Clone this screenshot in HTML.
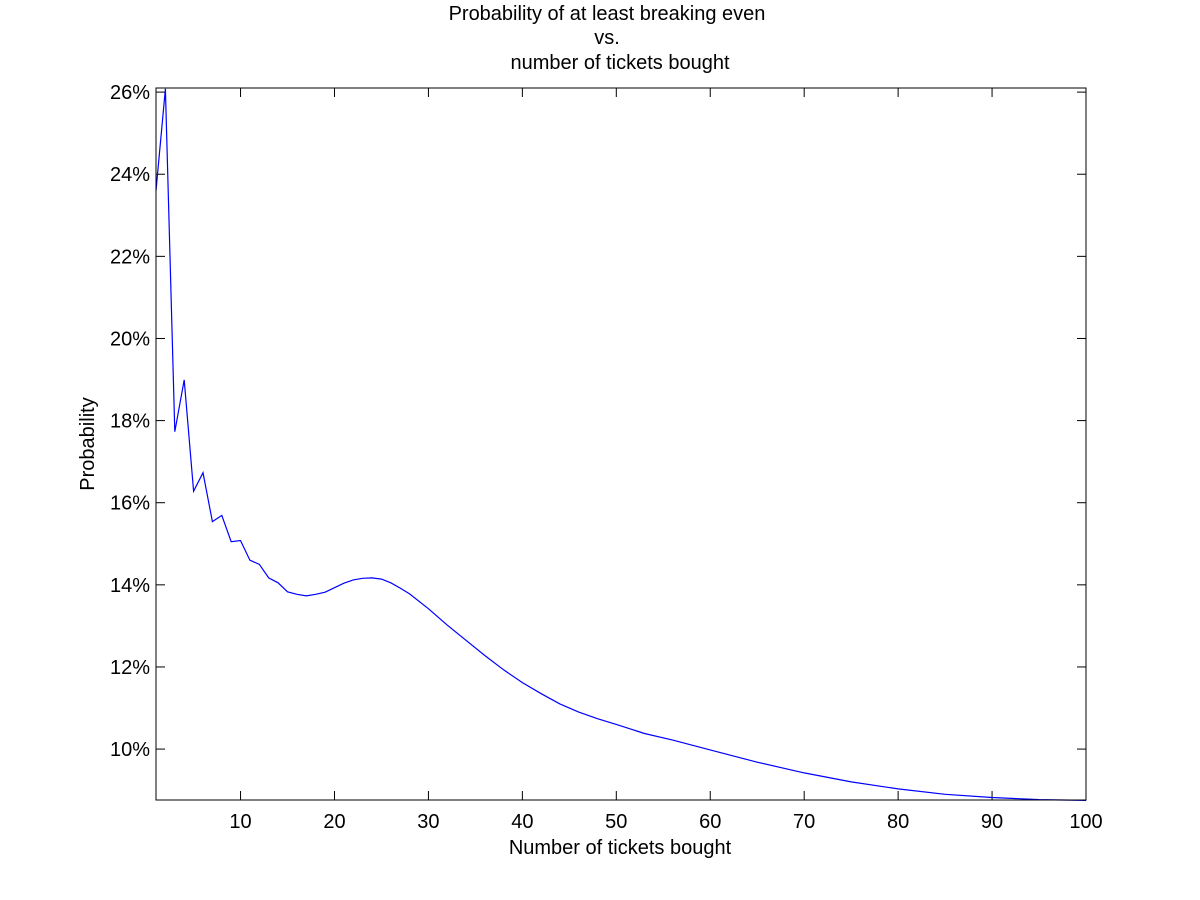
<!DOCTYPE html>
<html><head><meta charset="utf-8"><style>
html,body{margin:0;padding:0;background:#fff;}
svg{display:block;font-family:"Liberation Sans",Arial,sans-serif;}
</style></head><body>
<svg id="chart" width="1200" height="900">
<text x="607" y="20" font-size="20" text-anchor="middle">Probability of at least breaking even</text>
<text x="607" y="44" font-size="20" text-anchor="middle">vs.</text>
<text x="620" y="69" font-size="20" text-anchor="middle">number of tickets bought</text>
<text x="620" y="854" font-size="20" text-anchor="middle">Number of tickets bought</text>
<text transform="translate(94,444) rotate(-90)" font-size="20" text-anchor="middle">Probability</text>
<g id="ticks"></g>
<path id="line" fill="none" stroke="#0000ff" stroke-width="1.2"></path>
<rect x="156" y="88" width="930" height="712" fill="none" stroke="#000" stroke-width="1"></rect>
</svg>
<script>
const tickets = [1,2,3,4,5,6,7,8,9,10,11,12,13,14,15,16,17,18,19,20,21,22,23,24,25,26,27,28,30,32,34,36,38,40,42,44,46,48,50,53,56,60,65,70,75,80,85,90,95,100];
const probability = [23.6,26.08,17.73,18.99,16.28,16.73,15.54,15.69,15.05,15.08,14.6,14.5,14.17,14.05,13.83,13.77,13.73,13.77,13.82,13.93,14.04,14.12,14.16,14.17,14.14,14.05,13.92,13.78,13.42,13.02,12.65,12.28,11.93,11.62,11.35,11.1,10.9,10.74,10.6,10.38,10.22,9.98,9.68,9.42,9.2,9.03,8.9,8.82,8.77,8.75];
const xTicks = [10,20,30,40,50,60,70,80,90,100];
const yTicks = [10,12,14,16,18,20,22,24,26];
const L=156,R=1086,T=88,B=800, XMIN=1,XMAX=100,YMIN=8.76,YMAX=26.1;
const xs=v=>L+(v-XMIN)/(XMAX-XMIN)*(R-L);
const ys=v=>B-(v-YMIN)/(YMAX-YMIN)*(B-T);
const NS='http://www.w3.org/2000/svg';
const g=document.getElementById('ticks');
function mk(tag,attrs){const e=document.createElementNS(NS,tag);for(const k in attrs)e.setAttribute(k,attrs[k]);g.appendChild(e);return e;}
xTicks.forEach(v=>{
  const x=xs(v);
  const t1=mk('line',{x1:x,x2:x,y1:B,y2:B-9,stroke:'#000'});
  
  
  const t2=mk('line',{x1:x,x2:x,y1:T,y2:T+9,stroke:'#000'});
  
  
  const lb=mk('text',{x:x,y:828,'font-size':20,'text-anchor':'middle'});
  lb.textContent=v;
  
  
});
yTicks.forEach(v=>{
  const y=ys(v);
  const t1=mk('line',{x1:L,x2:L+9,y1:y,y2:y,stroke:'#000'});
  
  
  const t2=mk('line',{x1:R,x2:R-9,y1:y,y2:y,stroke:'#000'});
  
  
  const lb=mk('text',{x:150,y:y+7,'font-size':20,'text-anchor':'end'});
  lb.textContent=v+'%';
  
  
});
document.getElementById('line').setAttribute('d',tickets.map((t,i)=>(i?'L':'M')+xs(t).toFixed(1)+','+ys(probability[i]).toFixed(1)).join(''));
</script>
</body></html>
